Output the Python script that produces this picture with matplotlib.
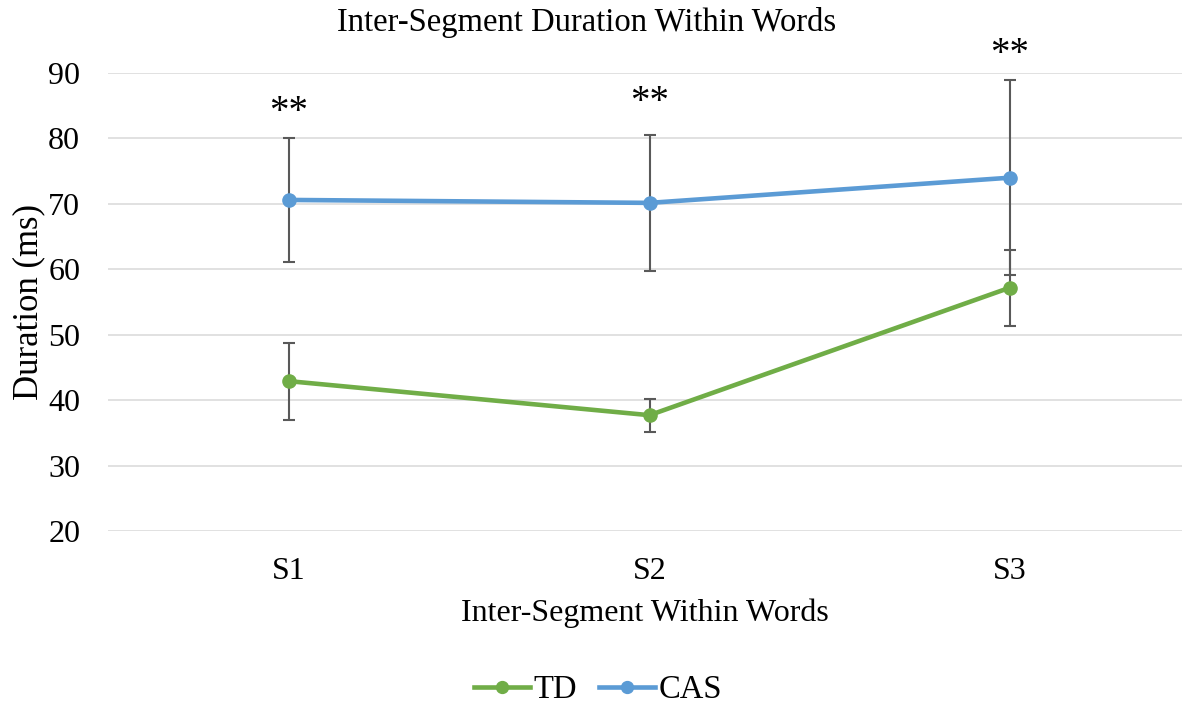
import numpy as np
import matplotlib.pyplot as plt

categories = ['S1', 'S2', 'S3']
td_mean = [42.9, 37.7, 57.2]
td_err = [5.9, 2.5, 5.8]
cas_mean = [70.6, 70.15, 74.0]
cas_err = [9.5, 10.35, 14.9]
star_y = [85.1, 86.6, 94.0]
star_text = ['**', '**', '**']

plt.rcParams['font.family'] = ['Liberation Serif', 'DejaVu Serif']

fig = plt.figure(figsize=(11.82, 7.06), dpi=100)
ax = fig.add_axes([108 / 1182, 1 - 531 / 706, 1 - 108 / 1182, (531 - 73) / 706])

x = np.arange(len(categories))
err_color = '#595959'

ax.errorbar(x, td_mean, yerr=td_err, fmt='none', ecolor=err_color,
            elinewidth=1.5, capsize=4.5, capthick=1.5, zorder=2)
ax.errorbar(x, cas_mean, yerr=cas_err, fmt='none', ecolor=err_color,
            elinewidth=1.5, capsize=4.5, capthick=1.5, zorder=2)

ax.plot(x, td_mean, color='#70AD47', lw=3.3, marker='o', ms=9.5,
        label='TD', zorder=3)
ax.plot(x, cas_mean, color='#5B9BD5', lw=3.3, marker='o', ms=9.5,
        label='CAS', zorder=3)

# star glyphs sit high in the em box, so anchor on the baseline and shift down
star_fs = 28
for xi, yi, t in zip(x, star_y, star_text):
    ax.annotate(t, (xi, yi), xytext=(0, -0.44 * star_fs), textcoords='offset points',
                ha='center', va='baseline', fontsize=star_fs, annotation_clip=False)

ax.set_xlim(-0.502, 2.477)
ax.set_ylim(20, 90)
ax.set_yticks(np.arange(20, 91, 10))
ax.set_xticks(x)
ax.set_xticklabels(categories)
ax.tick_params(axis='both', length=0, labelsize=23, colors='black')
ax.tick_params(axis='y', pad=20)
ax.tick_params(axis='x', pad=19)

ax.grid(axis='y', color='#D9D9D9', lw=1.1)
ax.set_axisbelow(True)
for s in ax.spines.values():
    s.set_visible(False)

ax.set_xlabel('Inter-Segment Within Words', fontsize=23, labelpad=9)
ax.set_ylabel('Duration (ms)', fontsize=25, labelpad=2)
fig.text(587 / 1182, 1 - 22 / 706, 'Inter-Segment Duration Within Words',
         ha='center', va='center', fontsize=23.5)

fig.legend(loc='center', bbox_to_anchor=(598 / 1182, 1 - 690 / 706), ncol=2,
           frameon=False, fontsize=23.5, handlelength=1.7, handletextpad=0.1,
           columnspacing=0.7, markerscale=0.9)

fig.savefig('out.png', dpi=100)
